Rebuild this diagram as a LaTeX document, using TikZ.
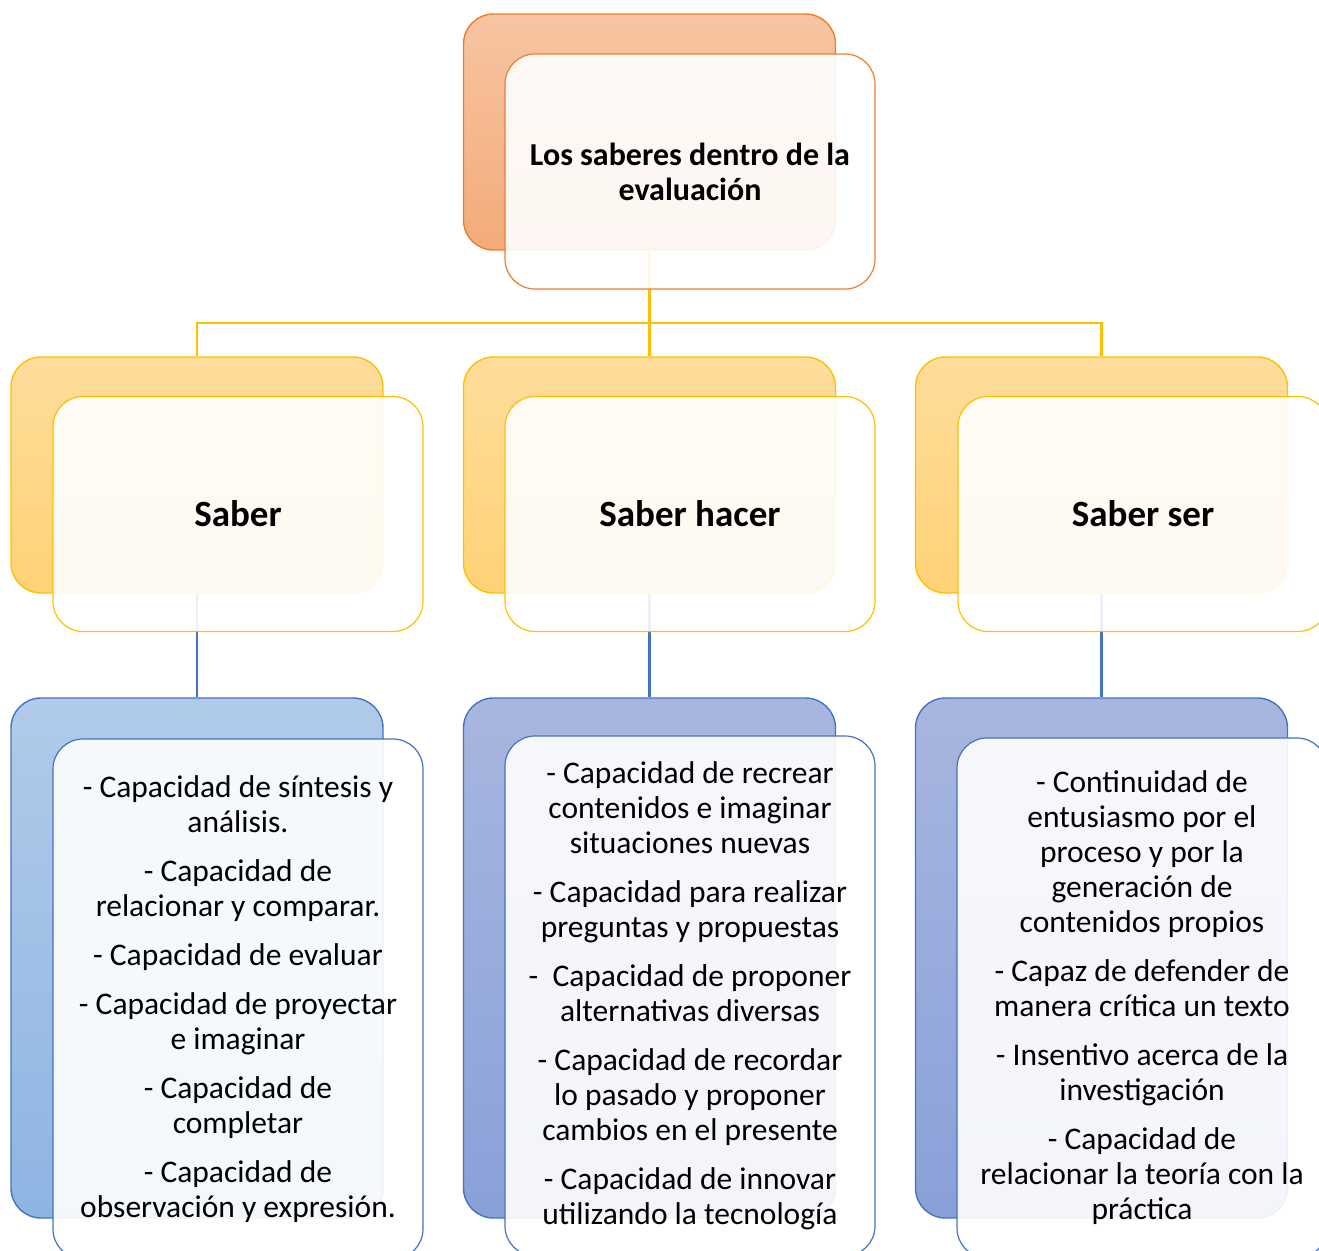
\documentclass[tikz,border=0pt]{standalone}
\usepackage{fontspec}
\setmainfont{Carlito}
\usetikzlibrary{positioning}

\definecolor{naranja}{HTML}{ED7D31}
\definecolor{amarillo}{HTML}{FFC000}
\definecolor{azul}{HTML}{4472C4}
\definecolor{claroarriba}{RGB}{176,203,233}
\definecolor{claroabajo}{RGB}{142,180,226}
\definecolor{azularriba}{RGB}{168,182,223}
\definecolor{azulabajo}{RGB}{137,160,216}

\begin{document}
\begin{tikzpicture}[x=1pt,y=-1pt,
    back/.style={draw, rounded corners=30pt, minimum width=372pt, minimum height=236pt, inner sep=0pt, line width=1.4pt},
    front/.style={draw, rounded corners=30pt, minimum width=370pt, minimum height=235pt, inner sep=0pt,
        fill=white, fill opacity=0.9, text opacity=1, line width=1.2pt, align=center},
    naranjabox/.style={back, draw=naranja, top color=naranja!45!white, bottom color=naranja!65!white},
    amarillobox/.style={back, draw=amarillo, top color={rgb,255:red,254;green,221;blue,155}, bottom color={rgb,255:red,254;green,210;blue,118}},
    azulclaro/.style={back, draw=azul, minimum height=520pt, top color=claroarriba, bottom color=claroabajo},
    azulbox/.style={back, draw=azul, minimum height=520pt, top color=azularriba, bottom color=azulabajo},
    titulo/.style={font={\bfseries\fontsize{32}{35}\selectfont}},
    saber/.style={font={\bfseries\fontsize{37}{44}\selectfont}},
    lista/.style={font={\fontsize{31.5}{35}\selectfont}}]

    \clip (0,0) rectangle (1319,1250);

    % fondos
    \node[naranjabox] (topb) at (649.5,132) {};
    \node[amarillobox] (sab) at (197,475) {};
    \node[amarillobox] (hac) at (649.5,475) {};
    \node[amarillobox] (ser) at (1101.5,475) {};
    \node[azulclaro] (sabl) at (197,958) {};
    \node[azulbox] (hacl) at (649.5,958) {};
    \node[azulbox] (serl) at (1101.5,958) {};

    % conectores
    \coordinate (bus) at (649.5,323);
    \draw[amarillo, line width=2.6pt] (topb.south) -- (bus);
    \draw[amarillo, line width=2.6pt] (bus) -| (sab.north);
    \draw[amarillo, line width=2.6pt] (bus) -- (hac.north);
    \draw[amarillo, line width=2.6pt] (bus) -| (ser.north);
    \draw[azul, line width=2.4pt] (sab.south) -- (sabl.north);
    \draw[azul, line width=2.4pt] (hac.south) -- (hacl.north);
    \draw[azul, line width=2.4pt] (ser.south) -- (serl.north);

    % cajas
    \node[front, draw=naranja, titulo] (top) at (690,171.5) {Los saberes dentro de la\\evaluación};
    \node[front, draw=amarillo, saber] (sabf) at (238,514) {Saber};
    \node[front, draw=amarillo, saber] (hacf) at (690,514) {Saber hacer};
    \node[front, draw=amarillo, saber] (serf) at (1143,514) {Saber ser};
    \node[front, draw=azul, minimum height=520pt, lista] (sabt) at (238,999)
        {- Capacidad de síntesis y\\análisis.\\[14pt]
         - Capacidad de\\relacionar y comparar.\\[14pt]
         - Capacidad de evaluar\\[14pt]
         - Capacidad de proyectar\\e imaginar\\[14pt]
         - Capacidad de\\completar\\[14pt]
         - Capacidad de\\observación y expresión.};
    \node[front, draw=azul, minimum height=520pt, lista] (hact) at (690,996)
        {- Capacidad de recrear\\contenidos e imaginar\\situaciones nuevas\\[14pt]
         - Capacidad para realizar\\preguntas y propuestas\\[14pt]
         -\ \ Capacidad de proponer\\alternativas diversas\\[14pt]
         - Capacidad de recordar\\lo pasado y proponer\\cambios en el presente\\[14pt]
         - Capacidad de innovar\\utilizando la tecnología};
    \node[front, draw=azul, minimum height=520pt, lista] (sert) at (1142,998)
        {- Continuidad de\\entusiasmo por el\\proceso y por la\\generación de\\contenidos propios\\[14pt]
         - Capaz de defender de\\manera crítica un texto\\[14pt]
         - Insentivo acerca de la\\investigación\\[14pt]
         - Capacidad de\\relacionar la teoría con la\\práctica};
\end{tikzpicture}
\end{document}
